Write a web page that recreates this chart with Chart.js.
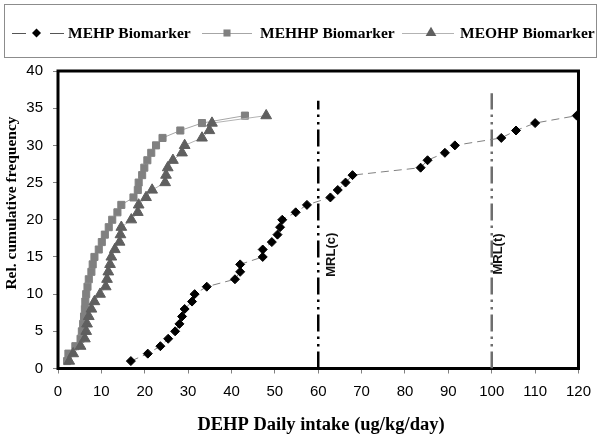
<!DOCTYPE html>
<html><head><meta charset="utf-8">
<script src="https://cdn.jsdelivr.net/npm/chart.js@4"></script>
<style>html,body{margin:0;padding:0;background:#fff}#wrap{width:600px;height:438px}</style>
</head><body><div id="wrap"><canvas id="c" width="600" height="438"></canvas></div>
<script>
const xTickValues = [0, 10, 20, 30, 40, 50, 60, 70, 80, 90, 100, 110, 120];
const yTickValues = [0, 5, 10, 15, 20, 25, 30, 35, 40];

const seriesNames = ['MEHP Biomarker', 'MEHHP Biomarker', 'MEOHP Biomarker'];

const mehpX = [16.8, 20.7, 23.6, 25.4, 27.0, 28.0, 28.6, 29.2, 30.9, 31.5, 34.3, 40.8, 42.0, 42.0, 47.2, 47.2, 49.3, 50.6, 51.2, 51.7, 54.8, 57.4, 62.8, 64.5, 66.3, 67.9, 83.6, 85.2, 89.2, 91.5, 102.2, 105.6, 110.0, 119.6];
const mehpY = [1, 2, 3, 4, 5, 6, 7, 8, 9, 10, 11, 12, 13, 14, 15, 16, 17, 18, 19, 20, 21, 22, 23, 24, 25, 26, 27, 28, 29, 30, 31, 32, 33, 34];

const mehhpX = [2.1, 2.4, 4.0, 5.2, 5.5, 5.8, 6.0, 6.2, 6.3, 6.5, 6.8, 7.1, 7.7, 8.0, 8.4, 9.4, 10.1, 10.8, 11.7, 12.5, 13.7, 14.6, 17.4, 18.4, 18.6, 19.4, 19.9, 20.6, 21.5, 22.6, 24.1, 28.2, 33.2, 43.1];
const mehhpY = [1, 2, 3, 4, 5, 6, 7, 8, 9, 10, 11, 12, 13, 14, 15, 16, 17, 18, 19, 20, 21, 22, 23, 24, 25, 26, 27, 28, 29, 30, 31, 32, 33, 34];

const meohpX = [2.6, 3.5, 5.2, 6.2, 6.5, 6.7, 7.1, 7.7, 8.4, 9.7, 11.0, 11.3, 11.6, 12.0, 12.3, 13.1, 14.2, 14.4, 14.6, 16.9, 18.4, 18.6, 20.3, 21.7, 24.7, 24.9, 25.3, 26.5, 28.6, 29.2, 33.2, 34.9, 35.5, 48.0];
const meohpY = [1, 2, 3, 4, 5, 6, 7, 8, 9, 10, 11, 12, 13, 14, 15, 16, 17, 18, 19, 20, 21, 22, 23, 24, 25, 26, 27, 28, 29, 30, 31, 32, 33, 34];

const mrlNames = ['MRL(c)', 'MRL(t)'];
const mrlX = [60, 100];
const mrlTop = [36, 37];
const mrlLabelY = [15.3, 15.4];

const xTitle = 'DEHP Daily intake (ug/kg/day)';
const yTitle = 'Rel. cumulative frequency';

const pts = (xs, ys) => xs.map((x, i) => ({x: x, y: ys[i]}));

const styles = [
  {line: '#808080', dash: [8, 5], pt: 'rectRot', r: 4.5, fill: '#000000'},
  {line: '#a6a6a6', dash: [], pt: 'rect', r: 5, fill: '#808080'},
  {line: '#b3b3b3', dash: [], pt: 'triangle', r: 6.2, fill: '#5f5f5f'}
];
const seriesData = [pts(mehpX, mehpY), pts(mehhpX, mehhpY), pts(meohpX, meohpY)];

const datasets = seriesData.map((d, i) => ({
  label: seriesNames[i], data: d, showLine: true,
  borderColor: styles[i].line, borderWidth: 1, borderDash: styles[i].dash,
  pointStyle: styles[i].pt, pointRadius: styles[i].r, pointHoverRadius: styles[i].r,
  pointBackgroundColor: styles[i].fill, pointBorderColor: styles[i].fill, pointBorderWidth: 1,
  order: 3 - i
}));
const mrlColors = ['#000000', '#6e6e6e'];
mrlX.forEach((x, i) => datasets.push({
  label: mrlNames[i], data: [{x: x, y: 0}, {x: x, y: mrlTop[i]}], showLine: true,
  borderColor: mrlColors[i], borderWidth: 2.5, borderDash: [17, 5, 2.5, 5, 2.5, 5],
  pointRadius: 0, order: 10
}));

function drawMarker(ctx, style, r, x, y, color) {
  ctx.save();
  ctx.fillStyle = color;
  ctx.beginPath();
  if (style === 'rectRot') {
    ctx.moveTo(x, y - r); ctx.lineTo(x + r, y); ctx.lineTo(x, y + r); ctx.lineTo(x - r, y);
  } else if (style === 'rect') {
    const s = r * Math.SQRT1_2; ctx.rect(x - s, y - s, 2 * s, 2 * s);
  } else {
    const a = r * Math.sqrt(3) / 2;
    ctx.moveTo(x, y - r); ctx.lineTo(x + a, y + r / 2); ctx.lineTo(x - a, y + r / 2);
  }
  ctx.closePath(); ctx.fill();
  ctx.restore();
}

const framePlugin = {
  id: 'frame',
  beforeDatasetsDraw(chart) {
    const {ctx, chartArea: a} = chart;
    ctx.save();
    ctx.strokeStyle = '#000'; ctx.lineWidth = 3;
    ctx.strokeRect(a.left, a.top, a.right - a.left, a.bottom - a.top);
    ctx.restore();
  },
  afterDraw(chart) {
    const ctx = chart.ctx;
    const xs = chart.scales.x, ys = chart.scales.y;
    ctx.save();
    // legend box
    ctx.strokeStyle = '#8c8c8c'; ctx.lineWidth = 1;
    ctx.strokeRect(4.5, 4.5, 592, 53);
    const items = [
      {l0: 12, l1: 64, m: 36.5, t: 68},
      {l0: 202, l1: 252, m: 227, t: 260},
      {l0: 402, l1: 454, m: 431, t: 460}
    ];
    const ly = 33;
    items.forEach((it, i) => {
      ctx.save();
      ctx.strokeStyle = i === 0 ? '#555' : styles[i].line; ctx.lineWidth = 1;
      ctx.setLineDash(i === 0 ? [14, 24] : []);
      ctx.beginPath(); ctx.moveTo(it.l0, ly + 0.5); ctx.lineTo(it.l1, ly + 0.5); ctx.stroke();
      ctx.restore();
      drawMarker(ctx, styles[i].pt, styles[i].r, it.m, ly, styles[i].fill);
      ctx.fillStyle = '#000';
      ctx.font = 'bold 15.5px "Liberation Serif", "Times New Roman", serif';
      ctx.textAlign = 'left'; ctx.textBaseline = 'middle';
      ctx.fillText(seriesNames[i], it.t, ly + 1);
    });
    // axis titles
    ctx.fillStyle = '#000';
    ctx.font = 'bold 18.5px "Liberation Serif", "Times New Roman", serif';
    ctx.textAlign = 'center'; ctx.textBaseline = 'middle';
    ctx.fillText(xTitle, 321, 425);
    ctx.save();
    ctx.translate(12, 203); ctx.rotate(-Math.PI / 2);
    ctx.font = 'bold 15.5px "Liberation Serif", "Times New Roman", serif';
    ctx.fillText(yTitle, 0, 0);
    ctx.restore();
    // MRL labels
    const offs = [13.5, 7];
    mrlNames.forEach((n, i) => {
      ctx.save();
      ctx.translate(xs.getPixelForValue(mrlX[i]) + offs[i], ys.getPixelForValue(mrlLabelY[i]));
      ctx.rotate(-Math.PI / 2);
      ctx.font = 'bold 13px "Liberation Sans", Arial, sans-serif';
      ctx.fillStyle = '#111';
      ctx.textAlign = 'center'; ctx.textBaseline = 'middle';
      ctx.fillText(n, 0, 0);
      ctx.restore();
    });
    ctx.restore();
  }
};

new Chart(document.getElementById('c'), {
  type: 'scatter',
  data: {datasets: datasets},
  options: {
    responsive: false, animation: false, devicePixelRatio: 1,
    layout: {padding: {left: 0, right: 19, top: 71, bottom: 0}},
    plugins: {legend: {display: false}, tooltip: {enabled: false}},
    scales: {
      x: {
        type: 'linear', min: 0, max: 120,
        afterBuildTicks: s => { s.ticks = xTickValues.map(v => ({value: v})); },
        afterFit: s => { s.height = 69.5; },
        ticks: {color: '#000', font: {family: '"Liberation Sans", Arial, sans-serif', size: 15}, padding: 9, maxRotation: 0, autoSkip: false},
        grid: {drawOnChartArea: false, drawTicks: true, tickLength: 5, color: '#808080'},
        border: {display: false}
      },
      y: {
        type: 'linear', min: 0, max: 40,
        afterBuildTicks: s => { s.ticks = yTickValues.map(v => ({value: v})); },
        afterFit: s => { s.width = 58; },
        ticks: {color: '#000', font: {family: '"Liberation Sans", Arial, sans-serif', size: 15}, padding: 10, autoSkip: false},
        grid: {drawOnChartArea: false, drawTicks: true, tickLength: 5, color: '#808080'},
        border: {display: false}
      }
    }
  },
  plugins: [framePlugin]
});
</script></body></html>
